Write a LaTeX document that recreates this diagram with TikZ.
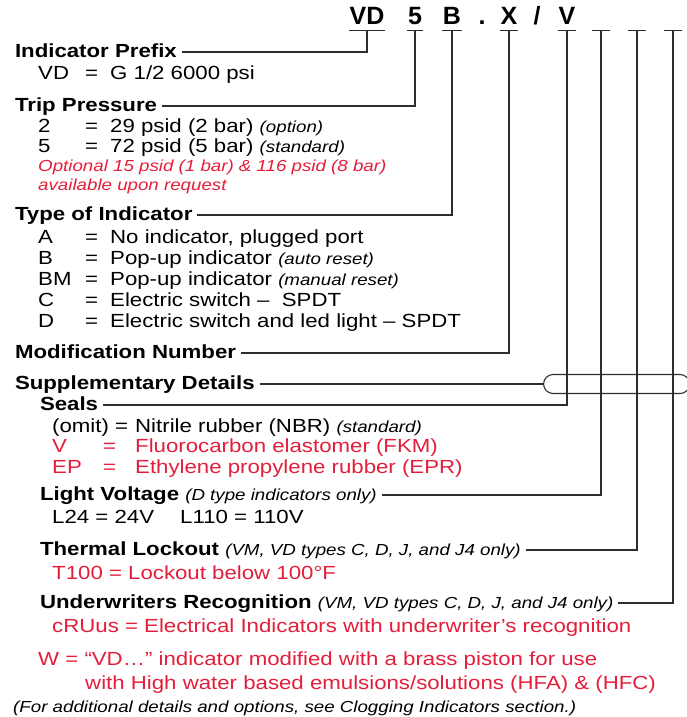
\documentclass[tikz,border=0pt]{standalone}
\usepackage{fontspec}
\setmainfont{Liberation Sans}[FakeStretch=1.17]
\newfontfamily\codefont{Liberation Sans}
\usepackage{xcolor}
\usepackage{tikz}
\usetikzlibrary{positioning}

\definecolor{specred}{RGB}{228,30,58}
\definecolor{lead}{RGB}{45,45,45}

\newcommand{\keyrow}[2]{\makebox[47pt][l]{#1}\makebox[25pt][l]{=}#2}
\newcommand{\optnote}[1]{{\fontsize{16}{16}\selectfont\mdseries\itshape #1}}
\newcommand{\rowset}[1]{\begin{tabular}[t]{@{}l@{}}#1\end{tabular}}

\begin{document}
\begin{tikzpicture}[
    x=1pt, y=-1pt,
    txt/.style={anchor=base west, inner sep=0pt, font=\fontsize{19}{21}\selectfont},
    note/.style={txt, font=\fontsize{16}{19}\selectfont\itshape},
    head/.style={anchor=base west, inner sep=0pt, outer xsep=5pt, text height=14pt, text depth=4pt, font=\fontsize{19}{21}\selectfont\bfseries},
    code/.style={anchor=base, inner xsep=0.8pt, inner ysep=5pt, text depth=0pt, font=\codefont\fontsize{25}{25}\selectfont\bfseries},
    blank/.style={code, minimum width=18pt},
    link/.style={draw=lead, line width=1.1pt},
    brk/.style={link, rounded corners=9.5pt, minimum width=146pt, minimum height=19pt, inner sep=0pt, anchor=west}
  ]
  \useasboundingbox (0,0) rectangle (687,717);

  % model code along the top
  \node[code] (cVD) at (367,25) {VD};
  \node[code] (c5) at (415,25) {5};
  \node[code] (cB) at (452,25) {B};
  \node[code] (cdot) at (482,25) {.};
  \node[code] (cX) at (509,25) {X};
  \node[code] (cslash) at (537,25) {/};
  \node[code] (cV) at (567,25) {V};
  \node[blank] (cb1) at (601,25) {};
  \node[blank] (cb2) at (637,25) {};
  \node[blank] (cb3) at (673,25) {};
  \foreach \c in {cVD,c5,cB,cX,cV,cb1,cb2,cb3}
    \draw[link] (\c.south west) -- (\c.south east);

  % headings
  \node[head] (pfx) at (10,57) {Indicator Prefix};
  \node[head] (trip) at (10,111) {Trip Pressure};
  \node[head] (type) at (10,220) {Type of Indicator};
  \node[head] (mod) at (10,358) {Modification Number};
  \node[head] (supp) at (10,389) {Supplementary Details};
  \node[head] (seals) at (35,410) {Seals};
  \node[head] (light) at (35,500) {Light Voltage \optnote{(D type indicators only)}};
  \node[head] (therm) at (35,555) {Thermal Lockout \optnote{(VM, VD types C, D, J, and J4 only)}};
  \node[head] (ul) at (35,608) {Underwriters Recognition \optnote{(VM, VD types C, D, J, and J4 only)}};

  % option lists
  \node[txt] (pfxrows) at (38,79) {\keyrow{VD}{G 1/2 6000 psi}};
  \node[txt, font=\fontsize{19}{20}\selectfont] (triprows) at (38,132)
    {\rowset{\keyrow{2}{29 psid (2 bar) \optnote{(option)}}\\
     \keyrow{5}{72 psid (5 bar) \optnote{(standard)}}}};
  \node[note, text=specred] (tripnote) at (38,171)
    {\rowset{Optional 15 psid (1 bar) \& 116 psid (8 bar)\\available upon request}};
  \node[txt] (typerows) at (38,243)
    {\rowset{\keyrow{A}{No indicator, plugged port}\\
     \keyrow{B}{Pop-up indicator \optnote{(auto reset)}}\\
     \keyrow{BM}{Pop-up indicator \optnote{(manual reset)}}\\
     \keyrow{C}{Electric switch --\ \ SPDT}\\
     \keyrow{D}{Electric switch and led light -- SPDT}}};
  \node[txt, font=\fontsize{19}{20.5}\selectfont] (sealrows) at (52,432)
    {\rowset{\makebox[83pt][l]{(omit) =}Nitrile rubber (NBR) \optnote{(standard)}\\
     \textcolor{specred}{\makebox[51pt][l]{V}\makebox[32pt][l]{=}Fluorocarbon elastomer (FKM)}\\
     \textcolor{specred}{\makebox[51pt][l]{EP}\makebox[32pt][l]{=}Ethylene propylene rubber (EPR)}}};
  \node[txt] (lightrows) at (52,523) {\makebox[128pt][l]{L24 = 24V}L110 = 110V};
  \node[txt, text=specred] (thermrow) at (52,579) {T100 = Lockout below 100°F};
  \node[txt, text=specred] (ulrow) at (52,632) {cRUus = Electrical Indicators with underwriter’s recognition};
  \node[txt, text=specred, font=\fontsize{19}{24}\selectfont] (wnote) at (38,665)
    {\rowset{W = “VD…” indicator modified with a brass piston for use\\
     \hspace*{47pt}with High water based emulsions/solutions (HFA) \& (HFC)}};
  \node[note] (foot) at (13,712) {(For additional details and options, see Clogging Indicators section.)};

  % leaders from headings up to the code
  \draw[link] (pfx.east) -| (cVD.south);
  \draw[link] (trip.east) -| (c5.south);
  \draw[link] (type.east) -| (cB.south);
  \draw[link] (mod.east) -| (cX.south);
  \draw[link] (seals.east) -| (cV.south);
  \draw[link] (light.east) -| (cb1.south);
  \draw[link] (therm.east) -| (cb2.south);
  \draw[link] (ul.east) -| (cb3.south);

  % bracket for the supplementary group
  \node[brk] (suppbr) at (543,384) {};
  \draw[link] (supp.east) -- (suppbr.west);
\end{tikzpicture}
\end{document}
